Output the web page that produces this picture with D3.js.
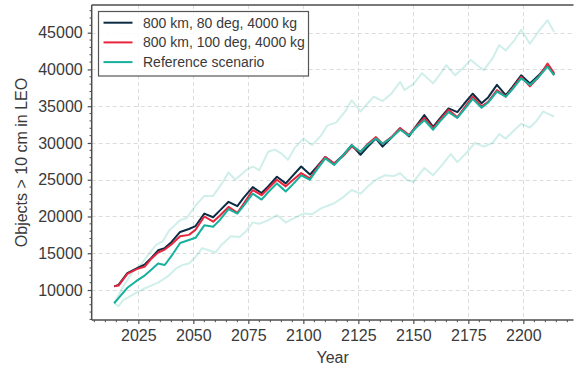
<!DOCTYPE html>
<html>
<head>
<meta charset="utf-8">
<script src="https://cdn.jsdelivr.net/npm/d3@7"></script>
<style>
html, body { margin: 0; padding: 0; background: #fff; }
svg { display: block; font-family: "Liberation Sans", Arial, sans-serif; }
</style>
</head>
<body>
<svg id="chart" width="575" height="370"></svg>
<script>
// ---- data ----
const years = [2014, 2016, 2020, 2024, 2028, 2031, 2034, 2037, 2040, 2044, 2048, 2051, 2055, 2059, 2062, 2066, 2070, 2073, 2077, 2081, 2084, 2088, 2092, 2095, 2099, 2103, 2106, 2110, 2114, 2118, 2122, 2126, 2129, 2133, 2136, 2140, 2144, 2148, 2151, 2155, 2159, 2162, 2166, 2170, 2173, 2177, 2181, 2184, 2188, 2192, 2195, 2199, 2203, 2207, 2211, 2214];
const dark80 = [10500, 10700, 12300, 12900, 13500, 14400, 15400, 15700, 16500, 17900, 18300, 18700, 20400, 19900, 20800, 22000, 21400, 22600, 24000, 23200, 24100, 25400, 24500, 25500, 26800, 25700, 26700, 28100, 27200, 28300, 29700, 28400, 29400, 30600, 29500, 30700, 32000, 30900, 32200, 33800, 32200, 33300, 34700, 34200, 35300, 36700, 35400, 36200, 37900, 36500, 37600, 39200, 38100, 39200, 40600, 39300];
const red100 = [10500, 10600, 12200, 12800, 13200, 14300, 15100, 15500, 16200, 17300, 17500, 18200, 20000, 19300, 20100, 21300, 20500, 21800, 23600, 22900, 23800, 25000, 24100, 24900, 25900, 25200, 26500, 28100, 27200, 28200, 29500, 28800, 29800, 30800, 29900, 30800, 32000, 31100, 32100, 33400, 32000, 33100, 34500, 33500, 34700, 36300, 35000, 35600, 37200, 36300, 37400, 39000, 37700, 39000, 40800, 39500];
const reference = [8200, 8900, 10300, 11200, 12000, 12800, 13600, 13400, 14600, 16400, 16800, 17100, 18800, 18600, 19500, 21000, 20400, 21500, 23100, 22300, 23300, 24500, 23400, 24300, 25600, 25000, 26300, 27900, 27000, 28300, 29700, 28800, 29700, 30600, 29900, 30700, 31800, 31000, 32000, 33100, 31800, 32900, 34200, 33400, 34500, 36000, 34800, 35500, 37000, 36300, 37300, 38800, 37900, 39000, 40400, 39200];

const upperYears = [2014, 2016, 2018, 2022, 2026, 2030, 2033, 2036, 2039, 2044, 2047, 2051, 2055, 2059, 2063, 2066, 2069, 2074, 2077, 2080, 2084, 2087, 2090, 2093, 2096, 2100, 2104, 2108, 2111, 2115, 2119, 2122, 2126, 2129, 2132, 2136, 2140, 2144, 2146, 2150, 2154, 2159, 2162, 2165, 2169, 2173, 2176, 2182, 2186, 2189, 2192, 2196, 2199, 2203, 2207, 2211, 2214];
const upperBound = [8200, 9300, 10400, 12300, 13400, 15000, 16100, 16600, 18100, 19500, 19800, 21500, 22800, 22800, 24500, 26000, 25000, 26300, 26800, 26300, 28800, 29100, 28600, 27700, 29300, 30600, 29700, 31000, 32400, 32800, 34300, 35800, 34300, 35300, 36300, 35700, 36700, 38300, 37200, 38000, 39500, 38100, 39300, 40600, 39200, 40300, 41300, 39900, 41500, 43300, 42600, 44000, 45400, 43500, 45200, 46700, 45100];
const lowerYears = [2014, 2016, 2018, 2021, 2024, 2027, 2030, 2034, 2039, 2042, 2045, 2048, 2051, 2054, 2057, 2060, 2063, 2067, 2071, 2074, 2077, 2080, 2084, 2088, 2092, 2096, 2100, 2104, 2108, 2114, 2118, 2122, 2126, 2129, 2133, 2137, 2141, 2144, 2147, 2150, 2155, 2159, 2163, 2167, 2170, 2174, 2178, 2182, 2186, 2189, 2192, 2195, 2199, 2203, 2206, 2209, 2211, 2214];
const lowerBound = [8200, 7800, 8600, 9100, 9600, 10100, 10500, 11000, 12000, 12900, 13400, 13600, 14500, 15700, 15400, 15100, 16200, 17300, 17200, 18000, 19200, 19000, 19500, 20200, 19200, 19800, 20400, 20300, 21100, 21800, 22600, 23600, 23100, 24000, 25000, 25600, 25500, 25900, 25000, 24700, 26600, 25600, 27000, 28500, 27400, 28600, 30000, 29500, 30000, 31200, 30600, 31500, 32600, 32100, 33000, 34300, 34000, 33600];

const xTicks = [2025, 2050, 2075, 2100, 2125, 2150, 2175, 2200];
const yTicks = [10000, 15000, 20000, 25000, 30000, 35000, 40000, 45000];
const legendLabels = ["800 km, 80 deg, 4000 kg", "800 km, 100 deg, 4000 kg", "Reference scenario"];
const xLabel = "Year";
const yLabel = "Objects > 10 cm in LEO";

// ---- styles ----
const colDark = "#0c2c44", colRed = "#e8253d", colTeal = "#16b19d";
const colBand = "rgba(22,177,157,0.2)";
const textCol = "#3a3a3a", spineCol = "#4d4d4d";

const svg = d3.select("#chart");
const L = 91.7, R = 573.5, T = 5, B = 320;
const x = d3.scaleLinear().domain([2003.8, 2222.8]).range([L, R]);
const y = d3.scaleLinear().domain([5920, 48768]).range([B, T]);

// grid
const grid = svg.append("g").attr("stroke", "#dcdcdc").attr("stroke-width", 1).attr("stroke-dasharray", "4,3");
grid.selectAll("line.v").data(xTicks).join("line")
  .attr("x1", d => Math.round(x(d)) + 0.5).attr("x2", d => Math.round(x(d)) + 0.5)
  .attr("y1", T).attr("y2", B);
grid.selectAll("line.h").data(yTicks).join("line")
  .attr("y1", d => Math.round(y(d)) + 0.5).attr("y2", d => Math.round(y(d)) + 0.5)
  .attr("x1", L).attr("x2", 575);

const line = d3.line().x(d => x(d[0])).y(d => y(d[1]));
const plot = svg.append("g");
function draw(xs, vs, color) {
  plot.append("path").datum(xs.map((t, i) => [t, vs[i]]))
    .attr("d", line).attr("fill", "none").attr("stroke", color)
    .attr("stroke-width", 2).attr("stroke-linejoin", "round").attr("stroke-linecap", "butt");
}
draw(upperYears, upperBound, colBand);
draw(lowerYears, lowerBound, colBand);
draw(years, dark80, colDark);
draw(years, red100, colRed);
draw(years, reference, colTeal);

// axes
const xAxis = svg.append("g").attr("transform", `translate(0,${B})`)
  .call(d3.axisBottom(x).tickValues(xTicks).tickFormat(d3.format("d")).tickSizeInner(4).tickSizeOuter(0).tickPadding(6));
const yAxis = svg.append("g").attr("transform", `translate(${L},0)`)
  .call(d3.axisLeft(y).tickValues(yTicks).tickFormat(d3.format("d")).tickSizeInner(4).tickSizeOuter(0).tickPadding(5));
[xAxis, yAxis].forEach(a => {
  a.select(".domain").remove();
  a.selectAll("line").attr("stroke", spineCol).attr("stroke-width", 1.2);
  a.selectAll("text").attr("fill", textCol).attr("font-size", 16).attr("font-family", "Liberation Sans, Arial, sans-serif");
});
// minor ticks
const xMinor = d3.range(2005, 2223, 5).filter(v => !xTicks.includes(v));
const yMinor = d3.range(6000, 48769, 1000).filter(v => !yTicks.includes(v));
svg.append("g").selectAll("line").data(xMinor).join("line")
  .attr("x1", d => x(d)).attr("x2", d => x(d)).attr("y1", B).attr("y2", B + 2.2)
  .attr("stroke", spineCol).attr("stroke-width", 1);
svg.append("g").selectAll("line").data(yMinor).join("line")
  .attr("y1", d => y(d)).attr("y2", d => y(d)).attr("x1", L).attr("x2", L - 2.2)
  .attr("stroke", spineCol).attr("stroke-width", 1);

// spines (left, bottom, top; right edge falls outside the picture)
const sp = svg.append("g").attr("stroke", spineCol).attr("stroke-width", 1.5).attr("fill", "none");
sp.append("line").attr("x1", L).attr("x2", L).attr("y1", T).attr("y2", B);
sp.append("line").attr("x1", L).attr("x2", 573.5).attr("y1", B).attr("y2", B);
sp.append("line").attr("x1", L).attr("x2", 573.5).attr("y1", T).attr("y2", T);

// labels
svg.append("text").attr("x", (L + R) / 2).attr("y", 363).attr("text-anchor", "middle")
  .attr("fill", textCol).attr("font-size", 16).text(xLabel);
svg.append("text").attr("transform", `translate(26.5,${(T + B) / 2}) rotate(-90)`).attr("text-anchor", "middle")
  .attr("fill", textCol).attr("font-size", 16).text(yLabel);

// legend
const lg = svg.append("g");
lg.append("rect").attr("x", 98.5).attr("y", 11.5).attr("width", 210).attr("height", 64.5)
  .attr("fill", "rgba(255,255,255,0.85)").attr("stroke", "#555").attr("stroke-width", 1.2);
const legendColors = [colDark, colRed, colTeal];
legendLabels.forEach((lab, i) => {
  const ly = 22.7 + i * 19.7;
  lg.append("line").attr("x1", 103.5).attr("x2", 132.5).attr("y1", ly).attr("y2", ly)
    .attr("stroke", legendColors[i]).attr("stroke-width", 2);
  lg.append("text").attr("x", 143).attr("y", ly + 5).attr("fill", textCol).attr("font-size", 14).text(lab);
});
</script>
</body>
</html>
